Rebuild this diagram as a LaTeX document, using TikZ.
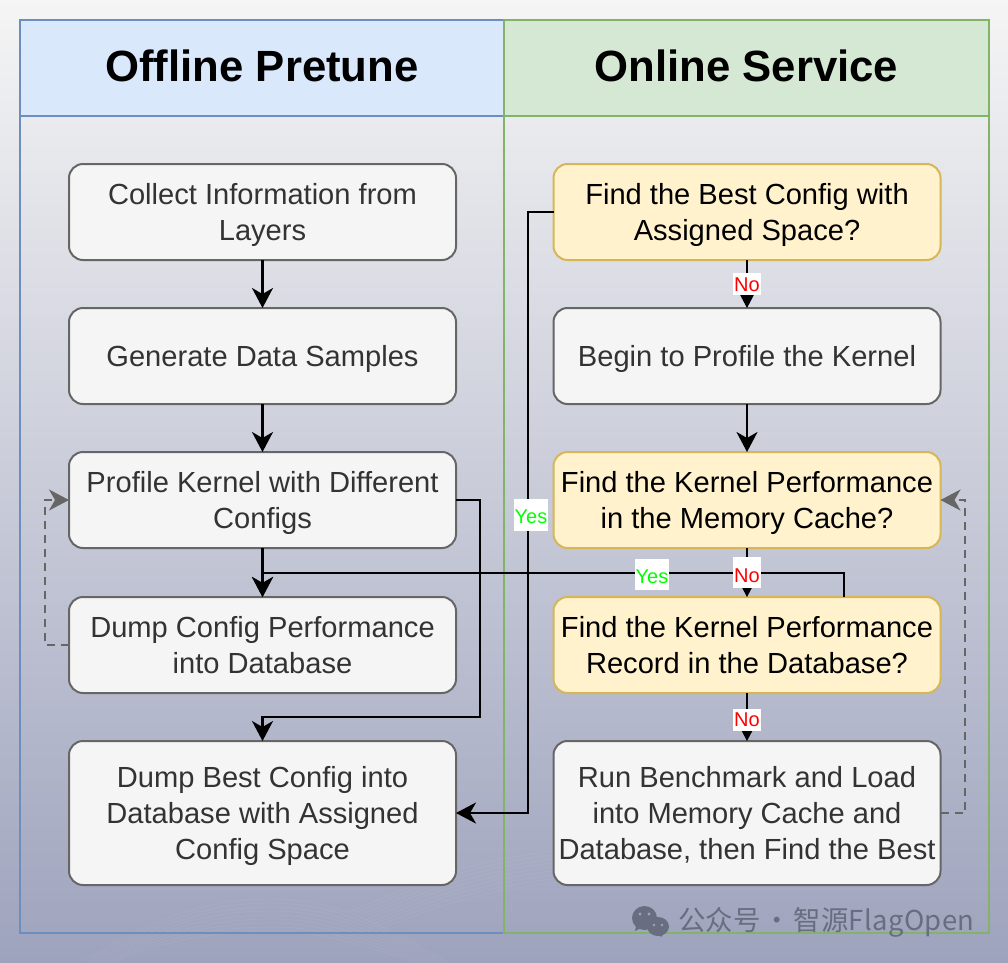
\documentclass[tikz,border=0pt]{standalone}
\usepackage{fontspec}
\setmainfont{Liberation Sans}
\newfontfamily\cjkfont{Noto Sans CJK SC}
\usetikzlibrary{arrows.meta,positioning,calc}
\definecolor{boxline}{HTML}{666666}
\definecolor{boxfill}{HTML}{F5F5F5}
\definecolor{boxtext}{HTML}{333333}
\definecolor{yelfill}{HTML}{FFF2CC}
\definecolor{yelline}{HTML}{D6B656}
\definecolor{bluefill}{HTML}{DAE8FC}
\definecolor{blueline}{HTML}{6C8EBF}
\definecolor{greenfill}{HTML}{D5E8D4}
\definecolor{greenline}{HTML}{82B366}
\definecolor{wmark}{HTML}{696D80}
\definecolor{bgtop}{HTML}{F5F5F5}
\definecolor{bgbot}{HTML}{9EA3BD}
\tikzset{
  x=1pt,y=-1pt,
  base/.style={rounded corners=14pt,line width=2pt,outer sep=0pt,minimum width=387pt,anchor=north west,align=center,inner sep=0pt,
    font=\fontsize{29.1}{36}\selectfont,text depth=6pt},
  graybox/.style={base,draw=boxline,fill=boxfill,text=boxtext},
  yelbox/.style={base,draw=yelline,fill=yelfill,text=black},
  one/.style={minimum height=96pt,text height=26pt},
  two/.style={minimum height=96pt,text height=63pt},
  three/.style={minimum height=144pt,text height=99pt},
  head/.style={anchor=north west,minimum width=484pt,minimum height=96pt,line width=2pt,outer sep=0pt,inner sep=0pt,
    font=\fontsize{43.7}{50}\selectfont\bfseries,text=black,text height=40pt,text depth=14pt},
  flow/.style={line width=2.3pt,draw=black,-{Stealth[length=20pt,width=21pt,inset=6pt]}},
  back/.style={line width=2pt,draw=boxline,dash pattern=on 8pt off 6pt,-{Stealth[length=20pt,width=21pt,inset=6pt]}},
  lab/.style={fill=white,inner xsep=1pt,inner ysep=0pt,font=\fontsize{20}{22}\selectfont},
  nolab/.style={lab,text=red},
  yeslab/.style={lab,text={rgb,255:red,0;green,255;blue,0},text height=24.5pt,text depth=7pt},
  wave/.style={white,opacity=.05,line width=.8pt},
}
\begin{document}
\begin{tikzpicture}
\useasboundingbox (0,0) rectangle (1008,962);
\shade[top color=bgtop,bottom color=bgbot] (0,0) rectangle (1008,962);
% faint background waves
\foreach \d in {0,4,...,32}{
  \draw[wave] ({83+\d},962) .. controls (170,{905+\d}) and (230,{899+\d}) .. (273,{899+\d}) .. controls (320,{899+\d}) and (370,{915+\d}) .. ({447-\d},962);
  \draw[wave] ({348+\d},{912+\d/2}) .. controls (420,{885+\d}) and (470,{850+\d}) .. (640,{845+\d});
}
% panels
\node[head,draw=blueline,fill=bluefill] (offh) at (20,20) {Offline Pretune};
\node[head,draw=greenline,fill=greenfill,minimum width=485pt] (onh) at (504,20) {Online Service};
\coordinate (offb) at (504,933);
\coordinate (onb) at (989,933);
\draw[blueline,line width=2pt] (offh.south west) rectangle (offb);
\draw[greenline,line width=2pt] (onh.south west) rectangle (onb);
% left column
\node[graybox,two] (collect) at (69,164) {Collect Information from\\Layers};
\node[graybox,one] (gen) at (69,308) {Generate Data Samples};
\node[graybox,two] (profile) at (69,452) {Profile Kernel with Different\\Configs};
\node[graybox,two] (dump) at (69,597) {Dump Config Performance\\into Database};
\node[graybox,three] (best) at (69,741) {Dump Best Config into\\Database with Assigned\\Config Space};
% right column
\node[yelbox,two] (findbest) at (553.5,164) {Find the Best Config with\\Assigned Space?};
\node[graybox,one] (begin) at (553.5,308) {Begin to Profile the Kernel};
\node[yelbox,two] (findmem) at (553.5,452) {Find the Kernel Performance\\in the Memory Cache?};
\node[yelbox,two] (finddb) at (553.5,597) {Find the Kernel Performance\\Record in the Database?};
\node[graybox,three] (run) at (553.5,741) {Run Benchmark and Load\\into Memory Cache and\\Database, then Find the Best};
% coordinates
\coordinate (c1) at (480,717);
\coordinate (c2) at (528,212);
\coordinate (c3) at (844,573);
\coordinate (c4) at (45,645);
\coordinate (c5) at (965,813);
% connectors
\draw[flow] (collect) -- (gen);
\draw[flow] (gen) -- (profile);
\draw[flow] (profile) -- (dump);
\draw[flow] (profile.east) -- (profile.east -| c1) -- (c1) -- (c1 -| best.north) -- (best.north);
\draw[flow] (findbest.west |- c2) -- (c2) -- (c2 |- best.east) -- (best.east);
\draw[flow] (findbest) -- (begin) node[nolab,midway,text height=18pt,text depth=4pt,yshift=0pt] {No};
\draw[flow] (begin) -- (findmem);
\draw[flow] (c3 |- finddb.north) -- (c3) -- (c3 -| dump.north) -- (dump.north);
\draw[flow] (findmem) -- (finddb) node[nolab,midway,text height=25pt,text depth=6pt] (nolab) {No};
\draw[flow] (finddb) -- (run) node[nolab,midway,text height=17pt,text depth=4.5pt,yshift=-3pt] {No};
\draw[back] (dump.west |- c4) -- (c4) -- (c4 |- profile.west) -- (profile.west);
\draw[back] (run.east |- c5) -- (c5) -- (c5 |- findmem.east) -- (findmem.east);
% labels on long connectors
\node[yeslab] (y1) at (531,515) {Yes};
\node[yeslab] (y2) at (652,574.5) {Yes};
% watermark
\fill[wmark] (635,931) -- (637,921) -- (645,926) -- cycle;
\fill[wmark] (644.5,918) ellipse (12.5pt and 12pt);
\fill[bgbot] (640,914) circle (1.7pt) (649,914) circle (1.7pt);
\fill[wmark] (664,933) -- (661,937) -- (657,932) -- cycle;
\fill[wmark] (658,926.5) ellipse (11pt and 9.5pt);
\fill[bgbot] (654,925) circle (1.4pt) (662,925) circle (1.4pt);
\node[anchor=west,inner sep=0pt,text=wmark,font=\cjkfont\fontsize{27.4}{30}\selectfont] (wm) at (678,922) {公众号\hspace{3pt}·\hspace{3pt}智源{\addfontfeature{LetterSpace=1.5}FlagOpen}};
\end{tikzpicture}
\end{document}
